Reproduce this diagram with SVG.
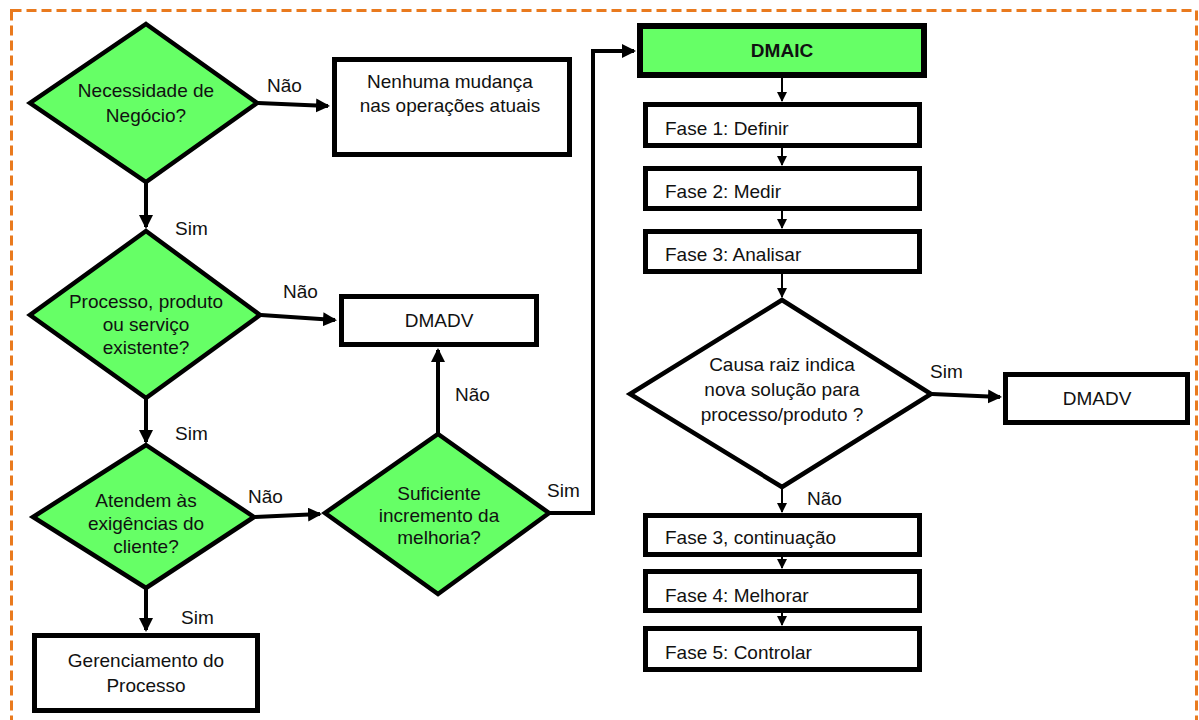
<svg xmlns="http://www.w3.org/2000/svg" width="1199" height="720" viewBox="0 0 1199 720">
<style>
  text { font-family: "Liberation Sans", Arial, sans-serif; font-size: 19px; fill: #111; }
  .c { text-anchor: middle; }
  .b { font-weight: bold; }
  .dia { fill: #66FF66; stroke: #000; stroke-width: 4.5; stroke-linejoin: miter; }
  .dia-w { fill: #fff; stroke: #000; stroke-width: 4.5; }
  .box { fill: #fff; stroke: #000; stroke-width: 5; }
  .gbox { fill: #66FF66; stroke: #000; stroke-width: 6; }
  .thick { fill: none; stroke: #000; stroke-width: 4; marker-end: url(#big); }
  .thin { fill: none; stroke: #000; stroke-width: 2; marker-end: url(#small); }
</style>
<defs>
  <marker id="big" markerUnits="userSpaceOnUse" markerWidth="16" markerHeight="16" refX="12" refY="7" orient="auto">
    <path d="M0,0 L14,7 L0,14 z" fill="#000"/>
  </marker>
  <marker id="small" markerUnits="userSpaceOnUse" markerWidth="12" markerHeight="12" refX="9" refY="5" orient="auto">
    <path d="M0,0 L10,5 L0,10 z" fill="#000"/>
  </marker>
</defs>
<rect width="1199" height="720" fill="#fff"/>
<rect x="11.5" y="10.5" width="1185" height="740" fill="none" stroke="#E97A1E" stroke-width="3" stroke-dasharray="10 5"/>

<g id="connectors">
  <line class="thick" x1="258" y1="103" x2="328" y2="106"/>
  <line class="thick" x1="146" y1="183" x2="146" y2="227"/>
  <line class="thick" x1="261" y1="315" x2="335" y2="320"/>
  <line class="thick" x1="146" y1="399" x2="146" y2="442"/>
  <line class="thick" x1="255" y1="517" x2="320" y2="514"/>
  <line class="thick" x1="146" y1="589" x2="146" y2="630"/>
  <line class="thick" x1="438" y1="433" x2="438" y2="350"/>
  <polyline class="thick" points="549,513 593,513 593,51 634,51"/>
  <line class="thick" x1="932" y1="394" x2="1000" y2="397"/>
  <line class="thin" x1="782" y1="78" x2="782" y2="101"/>
  <line class="thin" x1="782" y1="148" x2="782" y2="165"/>
  <line class="thin" x1="782" y1="211" x2="782" y2="228"/>
  <line class="thin" x1="782" y1="274" x2="782" y2="297"/>
  <line class="thin" x1="782" y1="488" x2="782" y2="512"/>
  <line class="thin" x1="782" y1="557" x2="782" y2="568"/>
  <line class="thin" x1="782" y1="613" x2="782" y2="625"/>
</g>

<g id="labels">
  <text x="267" y="92">Não</text>
  <text x="175" y="235">Sim</text>
  <text x="283" y="298">Não</text>
  <text x="175" y="440">Sim</text>
  <text x="248" y="503">Não</text>
  <text x="181" y="624">Sim</text>
  <text x="455" y="401">Não</text>
  <text x="547" y="497">Sim</text>
  <text x="930" y="378">Sim</text>
  <text x="807" y="505">Não</text>
</g>

<g id="d1">
  <polygon class="dia" points="146,24 257,103 146,182 30,103"/>
  <text class="c" x="146" y="97">Necessidade de</text>
  <text class="c" x="146" y="122">Negócio?</text>
</g>
<g id="nenhuma">
  <rect class="box" x="334.5" y="59.5" width="235" height="95"/>
  <text class="c" x="450" y="88">Nenhuma mudança</text>
  <text class="c" x="450" y="112">nas operações atuais</text>
</g>
<g id="d2">
  <polygon class="dia" points="146,231 260,315 146,398 30,315"/>
  <text class="c" x="146" y="308">Processo, produto</text>
  <text class="c" x="146" y="331">ou serviço</text>
  <text class="c" x="146" y="354">existente?</text>
</g>
<g id="dmadv1">
  <rect class="box" x="341.5" y="296.5" width="195" height="48"/>
  <text class="c" x="439" y="327">DMADV</text>
</g>
<g id="d3">
  <polygon class="dia" points="146,445 254,517 146,588 33,517"/>
  <text class="c" x="146" y="507">Atendem às</text>
  <text class="c" x="146" y="530">exigências do</text>
  <text class="c" x="146" y="553">cliente?</text>
</g>
<g id="d4">
  <polygon class="dia" points="438,434 549,513 438,594 325,513"/>
  <text class="c" x="439" y="500">Suficiente</text>
  <text class="c" x="439" y="522">incremento da</text>
  <text class="c" x="439" y="544">melhoria?</text>
</g>
<g id="gerenciamento">
  <rect class="box" x="34.5" y="635.5" width="223" height="75"/>
  <text class="c" x="146" y="667">Gerenciamento do</text>
  <text class="c" x="146" y="692">Processo</text>
</g>

<g id="dmaic">
  <rect class="gbox" x="640" y="26" width="284" height="49"/>
  <text class="c b" x="782" y="57">DMAIC</text>
</g>
<g id="fase1">
  <rect class="box" x="645.5" y="104.5" width="274" height="41"/>
  <text x="665" y="135">Fase 1: Definir</text>
</g>
<g id="fase2">
  <rect class="box" x="645.5" y="168.5" width="274" height="40"/>
  <text x="665" y="198">Fase 2: Medir</text>
</g>
<g id="fase3">
  <rect class="box" x="645.5" y="231.5" width="274" height="40"/>
  <text x="665" y="261">Fase 3: Analisar</text>
</g>
<g id="d5">
  <polygon class="dia-w" points="782,300 931,394 782,487 630,394"/>
  <text class="c" x="782" y="371">Causa raiz indica</text>
  <text class="c" x="782" y="396">nova solução para</text>
  <text class="c" x="782" y="421">processo/produto ?</text>
</g>
<g id="dmadv2">
  <rect class="box" x="1005.5" y="374.5" width="182" height="48"/>
  <text class="c" x="1097" y="405">DMADV</text>
</g>
<g id="fase3c">
  <rect class="box" x="645.5" y="515.5" width="274" height="39"/>
  <text x="665" y="544">Fase 3, continuação</text>
</g>
<g id="fase4">
  <rect class="box" x="645.5" y="571.5" width="274" height="39"/>
  <text x="665" y="602">Fase 4: Melhorar</text>
</g>
<g id="fase5">
  <rect class="box" x="645.5" y="628.5" width="274" height="41"/>
  <text x="665" y="659">Fase 5: Controlar</text>
</g>
</svg>
